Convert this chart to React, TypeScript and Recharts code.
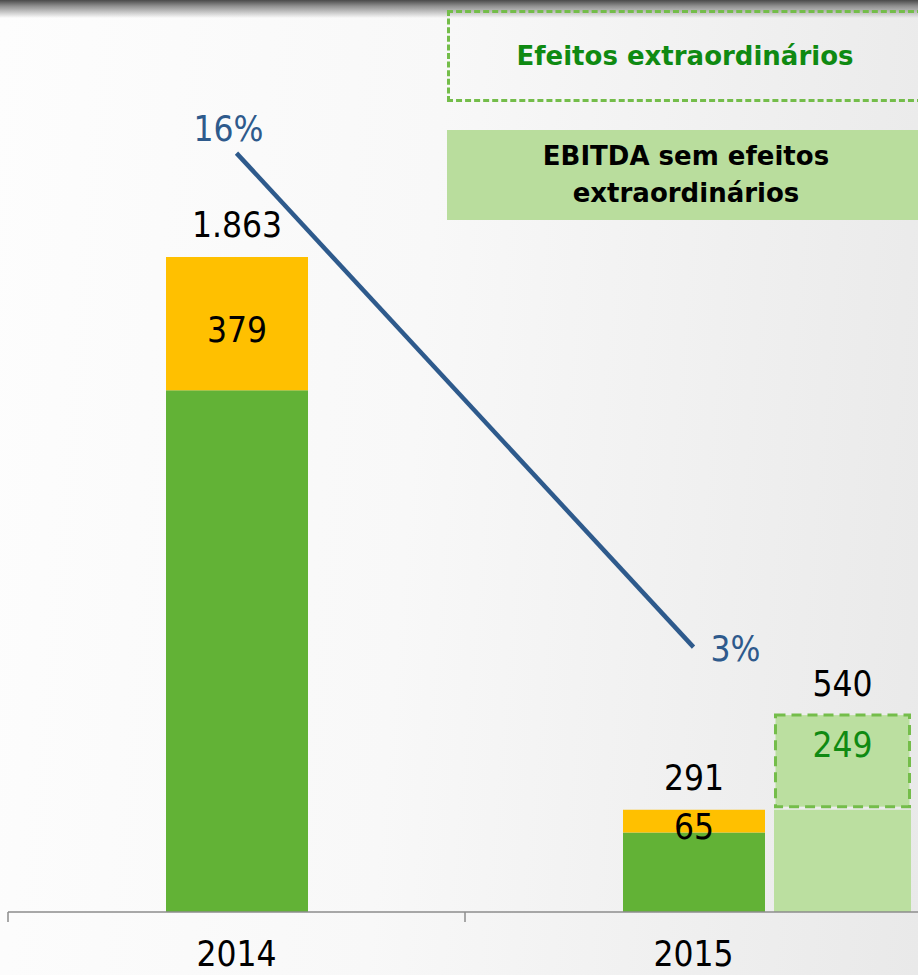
import React from 'react'
import { ComposedChart, Bar, Line, XAxis, YAxis, LabelList } from 'recharts'

// EBITDA (R$ mi) by year
const years = ['2014', '2015']
const ebitdaBase = [1484, 226]
const extraordinaryEffects = [379, 65]
const ebitdaTotal = [1863, 291]
const ebitdaMargin = [16, 3]
// 2015 without extraordinary effects
const adjustedBase = [null, 291]
const adjustedEffects = [null, 249]
const adjustedTotal = [null, 540]

const data = years.map((year, i) => ({
  year,
  base: ebitdaBase[i],
  effects: extraordinaryEffects[i],
  total: ebitdaTotal[i],
  margin: ebitdaMargin[i],
  adjBase: adjustedBase[i],
  adjEffects: adjustedEffects[i],
  adjTotal: adjustedTotal[i]
}))

const colors = {
  green: '#62b236',
  yellow: '#ffc000',
  light: '#bbdfa0',
  dash: '#74bd4a',
  darkGreen: '#0f8a12',
  line: '#2e5a8c',
  axis: '#8c8c8c'
}

const font = "'DejaVu Sans Condensed', 'Liberation Sans Narrow', 'DejaVu Sans', sans-serif"
const legendFont = "'DejaVu Sans', sans-serif"

const CHART_W = 922
const CHART_H = 975
const MARGIN = { top: 60, right: 0, left: 8, bottom: 0 }
const PLOT_W = CHART_W - MARGIN.left - MARGIN.right
const HALF_BAND = PLOT_W / years.length / 2

const fmtThousands = (v: any) =>
  v == null ? '' : String(v).replace(/\B(?=(\d{3})+(?!\d))/g, '.')

// year label plus category boundary tick
const YearTick = ({ x, y, payload }: any) => (
  <g>
    <line x1={x - HALF_BAND} y1={y} x2={x - HALF_BAND} y2={y + 10} stroke={colors.axis} strokeWidth={1.5} />
    <text x={x} y={y + 54} textAnchor="middle" fontSize={35} fontFamily={font} fill="#000">
      {payload.value}
    </text>
  </g>
)

// margin labels: first above-left, last to the right
const MarginLabel = ({ x, y, value, index }: any) => {
  if (value == null) return null
  const first = index === 0
  return (
    <text
      x={first ? x - 8 : x + 42}
      y={first ? y - 12 : y + 14}
      textAnchor="middle"
      fontSize={35}
      fontFamily={font}
      fill={colors.line}
    >
      {value}%
    </text>
  )
}

const DashedBox = (props: any) => {
  const { x, y, width, height } = props
  if (!height) return null
  return (
    <rect
      x={x + 1.5}
      y={y - 7}
      width={width - 3}
      height={height + 4}
      fill={colors.light}
      stroke={colors.dash}
      strokeWidth={3}
      strokeDasharray="10 6"
    />
  )
}

// inner label of a thin segment sits a little low in the original
const EffectsLabel = ({ x, y, width, height, value }: any) => {
  if (value == null) return null
  return (
    <text x={x + width / 2} y={y + height / 2 + 18} textAnchor="middle" fontSize={35} fontFamily={font} fill="#000">
      {value}
    </text>
  )
}

const labelStyle = { fontSize: 35, fontFamily: font }

export default function App() {
  return (
    <div
      style={{
        position: 'fixed',
        left: 0,
        top: 0,
        width: 918,
        height: 975,
        overflow: 'hidden',
        background: 'linear-gradient(95deg, #fdfdfd 0%, #f8f8f8 45%, #e9e9e9 100%)'
      }}
    >
      <div
        style={{
          position: 'absolute',
          left: 0,
          top: 0,
          width: 918,
          height: 18,
          background: 'linear-gradient(to bottom, #4a4a4a 0px, #8f8f8f 6px, rgba(255,255,255,0) 18px)'
        }}
      />
      <div style={{ position: 'absolute', left: 0, top: 0 }}>
        <ComposedChart width={CHART_W} height={CHART_H} data={data} margin={MARGIN}>
          <XAxis
            xAxisId="main"
            dataKey="year"
            height={63}
            tickLine={false}
            tickSize={0}
            tickMargin={0}
            axisLine={{ stroke: colors.axis, strokeWidth: 1.5 }}
            tick={<YearTick />}
            interval={0}
          />
          <XAxis xAxisId="adj" dataKey="year" hide height={0} padding={{ left: 596, right: 0 }} />
          <YAxis yAxisId="val" hide domain={[0, 2423]} />
          <YAxis yAxisId="pct" hide orientation="right" domain={[-3.97, 18.45]} />

          <Bar xAxisId="main" yAxisId="val" dataKey="base" stackId="a" fill={colors.green} barSize={142} isAnimationActive={false} />
          <Bar xAxisId="main" yAxisId="val" dataKey="effects" stackId="a" fill={colors.yellow} barSize={142} isAnimationActive={false}>
            <LabelList dataKey="effects" content={<EffectsLabel />} />
            <LabelList dataKey="total" position="top" offset={20} fill="#000" formatter={fmtThousands} style={labelStyle} />
          </Bar>

          <Bar xAxisId="adj" yAxisId="val" dataKey="adjBase" stackId="b" fill={colors.light} barSize={137} isAnimationActive={false} />
          <Bar xAxisId="adj" yAxisId="val" dataKey="adjEffects" stackId="b" fill={colors.light} barSize={137} shape={<DashedBox />} isAnimationActive={false}>
            <LabelList dataKey="adjEffects" position="insideTop" offset={10} fill={colors.darkGreen} style={labelStyle} />
            <LabelList dataKey="adjTotal" position="top" offset={26} fill="#000" style={labelStyle} />
          </Bar>

          <Line
            xAxisId="main"
            yAxisId="pct"
            dataKey="margin"
            stroke={colors.line}
            strokeWidth={4.5}
            dot={false}
            activeDot={false}
            isAnimationActive={false}
          >
            <LabelList dataKey="margin" content={<MarginLabel />} />
          </Line>
        </ComposedChart>
      </div>

      {/* legend boxes */}
      <div
        style={{
          position: 'absolute',
          left: 447,
          top: 10,
          width: 476,
          height: 92,
          boxSizing: 'border-box',
          border: `3px dashed ${colors.dash}`,
          display: 'flex',
          alignItems: 'center',
          justifyContent: 'center',
          fontFamily: legendFont,
          fontWeight: 'bold',
          fontSize: 26,
          color: colors.darkGreen
        }}
      >
        Efeitos extraordinários
      </div>
      <div
        style={{
          position: 'absolute',
          left: 447,
          top: 130,
          width: 478,
          height: 90,
          background: '#b9dd9d',
          display: 'flex',
          alignItems: 'center',
          justifyContent: 'center',
          textAlign: 'center',
          fontFamily: legendFont,
          fontWeight: 'bold',
          fontSize: 26,
          lineHeight: '37px',
          color: '#000'
        }}
      >
        EBITDA sem efeitos
        <br />
        extraordinários
      </div>
    </div>
  )
}
